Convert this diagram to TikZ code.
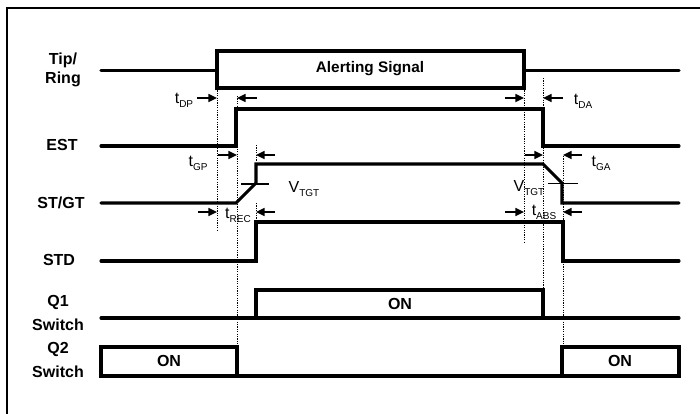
\documentclass[tikz,border=0pt]{standalone}
\usepackage{fontspec}
\setmainfont{Liberation Sans}
\usepackage{tikz}
\usetikzlibrary{arrows.meta,calc}
\newcommand{\tsub}[2]{#1\raisebox{-0.45ex}{\fontsize{7.5}{8}\selectfont #2}}

\begin{document}
\begin{tikzpicture}[x=0.75pt,y=-0.75pt,
    sig/.style={line width=2.3pt,line cap=round},
    guide/.style={line width=0.6pt,dash pattern=on 0.9pt off 0.9pt},
    tarr/.style={line width=1.1pt,-{Triangle[length=6.5pt,width=6pt]}},
    lab/.style={font=\fontsize{12}{15}\selectfont\bfseries,align=center},
    tim/.style={font=\fontsize{12}{13}\selectfont,inner sep=0pt}]
  \useasboundingbox (0,0) rectangle (700,414);
  % frame (open on the right and bottom)
  \draw[line width=2.2pt] (7,414) -- (7,8) -- (700,8);
  % signal names
  \node[lab,font=\fontsize{12}{14.5}\selectfont\bfseries] (tipring) at (63,70) {Tip/\\Ring};
  \node[lab] (est) at (62,145) {EST};
  \node[lab] (stgt) at (61,203) {ST/GT};
  \node[lab] (std) at (59,260) {STD};
  \node[lab,font=\fontsize{12}{18}\selectfont\bfseries] (qone) at (58,313) {Q1\\Switch};
  \node[lab,font=\fontsize{12}{18}\selectfont\bfseries] (qtwo) at (58,360) {Q2\\Switch};
  % waveforms
  \draw[sig] (101,70.5) -- (217,70.5) (524,70.5) -- (679,70.5);
  \draw[sig,line cap=butt] (217,51) rectangle (524,88);
  \draw[sig] (101,146) -- (236,146) -- (236,109) -- (543,109) -- (543,146) -- (679,146);
  \draw[sig] (101,203) -- (236,203) -- (256,183) -- (256,164) -- (543,164)
    -- (562,183) -- (562,203) -- (679,203);
  \draw[sig] (101,261) -- (256,261) -- (256,222) -- (563,222) -- (563,261) -- (679,261);
  \draw[sig] (101,318) -- (679,318);
  \draw[sig,line cap=butt] (256,318) -- (256,290) -- (543,290) -- (543,318);
  \draw[sig] (101,347) rectangle (237,376);
  \draw[sig] (237,376) -- (562,376);
  \draw[sig] (562,347) rectangle (679,376);
  \node[lab,font=\fontsize{11.5}{14}\selectfont\bfseries] (alert) at (370,69) {Alerting Signal};
  \node[lab] (onq1) at (400,304) {ON};
  \node[lab] (onq2a) at (169,361) {ON};
  \node[lab] (onq2b) at (620,361) {ON};
  % V_TGT threshold marks
  \draw[line width=1.1pt] (241,184) -- (269,184);
  \draw[line width=1.1pt] (548,183.5) -- (578,183.5);
  % guide lines
  \draw[guide] (217,88) -- (217,231);
  \draw[guide] (237,96) -- (237,347);
  \draw[guide] (256,145) -- (256,161) (256,203) -- (256,221);
  \draw[guide] (524,88) -- (524,242);
  \draw[guide] (543,78) -- (543,290);
  \draw[guide] (563,156) -- (563,347);
  % arrow tips on the guides
  \coordinate (dpL) at (217,98);  \coordinate (dpR) at (237,98);
  \coordinate (gpL) at (237,155); \coordinate (gpR) at (256,155);
  \coordinate (recL) at (217,212); \coordinate (recR) at (256,212);
  \coordinate (daL) at (524,98);  \coordinate (daR) at (543,98);
  \coordinate (gaL) at (543,155); \coordinate (gaR) at (563,155);
  \coordinate (absL) at (524,212); \coordinate (absR) at (563,212);
  \foreach \c/\d in {dpL/-20,dpR/20,gpL/-19,gpR/19,recL/-19,recR/19,
                     daL/-19,daR/20,gaL/-18,gaR/19,absL/-19,absR/19}
    \draw[tarr] ($(\c)+(\d,0)$) -- (\c);
  % timing labels
  \node[tim] (tdp) at (184,100) {\tsub{t}{DP}};
  \node[tim] (tgp) at (198,163) {\tsub{t}{GP}};
  \node[tim] (trec) at (238,215) {\tsub{t}{REC}};
  \node[tim] (vtgtl) at (304,189) {\tsub{V}{TGT}};
  \node[tim] (tda) at (583,101) {\tsub{t}{DA}};
  \node[tim] (tga) at (601,163) {\tsub{t}{GA}};
  \node[tim] (vtgtr) at (529,188) {\tsub{V}{TGT}};
  \node[tim] (tabs) at (544,212) {\tsub{t}{ABS}};
\end{tikzpicture}
\end{document}
